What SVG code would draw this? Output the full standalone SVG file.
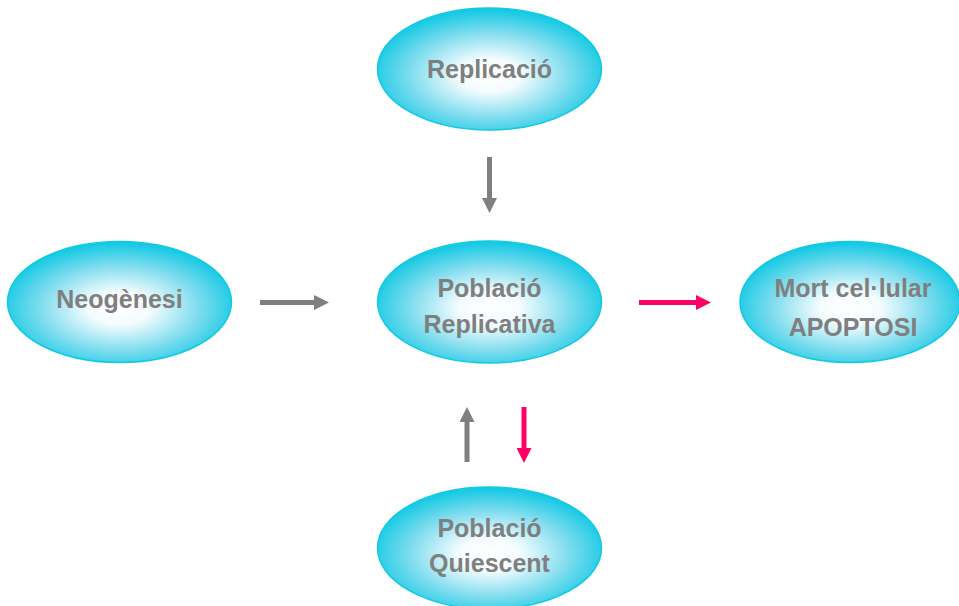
<svg xmlns="http://www.w3.org/2000/svg" width="959" height="606" viewBox="0 0 959 606">
<defs>
<radialGradient id="g" cx="50%" cy="55%" r="55%">
<stop offset="0" stop-color="#ffffff"/>
<stop offset="0.25" stop-color="#f4fcfe"/>
<stop offset="0.65" stop-color="#7ddcee"/>
<stop offset="1" stop-color="#0cc8e3"/>
</radialGradient>
<marker id="ag" markerWidth="3" markerHeight="3" refX="0" refY="1.5" orient="auto" markerUnits="strokeWidth"><path d="M0,0 L3,1.5 L0,3 Z" fill="#7f7f7f"/></marker>
<marker id="ap" markerWidth="3" markerHeight="3" refX="0" refY="1.5" orient="auto" markerUnits="strokeWidth"><path d="M0,0 L3,1.5 L0,3 Z" fill="#ff0066"/></marker>
</defs>
<style>
.n{fill:url(#g);stroke:#12c9e3;stroke-width:1.5}
.t{font-family:"Liberation Sans",Arial,sans-serif;font-weight:bold;font-size:25px;fill:#7f7f7f;text-anchor:middle}
.cg{stroke:#7f7f7f;stroke-width:5;fill:none}
.cp{stroke:#ff0066;stroke-width:5;fill:none}
</style>
<rect width="959" height="606" fill="#ffffff"/>
<g id="replicacio"><ellipse class="n" cx="489.5" cy="69" rx="112" ry="61"/><text class="t" x="489.5" y="78">Replicació</text></g>
<g id="neogenesi"><ellipse class="n" cx="119.5" cy="302" rx="112" ry="60.5"/><text class="t" x="119.5" y="308">Neogènesi</text></g>
<g id="replicativa"><ellipse class="n" cx="489.5" cy="302" rx="112" ry="61"/><text class="t" x="489.5" y="297">Població</text><text class="t" x="489.5" y="333">Replicativa</text></g>
<g id="apoptosi"><ellipse class="n" cx="850" cy="302" rx="110" ry="60.5"/><text class="t" x="853" y="297">Mort cel·lular</text><text class="t" x="853" y="336">APOPTOSI</text></g>
<g id="quiescent"><ellipse class="n" cx="489.5" cy="548" rx="112" ry="61"/><text class="t" x="489.5" y="537">Població</text><text class="t" x="489.5" y="572">Quiescent</text></g>
<g id="connectors">
<line class="cg" x1="489.5" y1="157" x2="489.5" y2="198" marker-end="url(#ag)"/>
<line class="cg" x1="260" y1="302.5" x2="314" y2="302.5" marker-end="url(#ag)"/>
<line class="cp" x1="639" y1="302.5" x2="696" y2="302.5" marker-end="url(#ap)"/>
<line class="cg" x1="467" y1="462" x2="467" y2="422" marker-end="url(#ag)"/>
<line class="cp" x1="524" y1="407" x2="524" y2="448" marker-end="url(#ap)"/>
</g>
</svg>
